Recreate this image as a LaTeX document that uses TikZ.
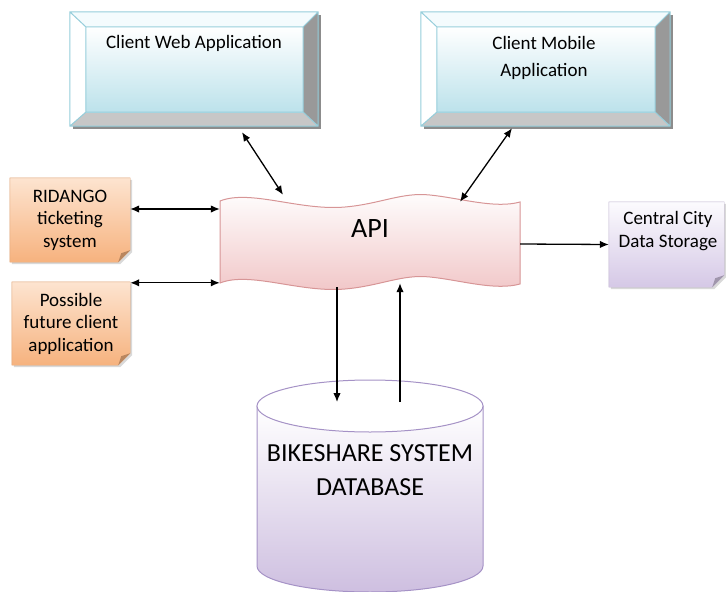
\documentclass[tikz,border=0pt]{standalone}
\usepackage{fontspec}
\setmainfont{Carlito}
\usetikzlibrary{positioning,arrows.meta,backgrounds}
\definecolor{skytop}{HTML}{F4FBFD}
\definecolor{skyface}{HTML}{BCE2EB}
\definecolor{skyline}{HTML}{96CEDB}
\definecolor{peachtop}{HTML}{FDE4D0}
\definecolor{peachbot}{HTML}{F6B27E}
\definecolor{lilactop}{HTML}{FCFBFE}
\definecolor{lilacbot}{HTML}{D5C8E6}
\definecolor{apibot}{HTML}{F1C6C7}
\definecolor{apiline}{HTML}{D79596}
\definecolor{dbbot}{HTML}{CEBFE0}
\definecolor{dbline}{HTML}{A592C6}

\begin{document}
\begin{tikzpicture}[x=1pt,y=-1pt,
    >={Latex[length=9pt,width=7.5pt]},
    every node/.style={text=black, align=center, inner sep=0pt},
    small/.style={font=\fontsize{19}{22.5}\selectfont},
    bevel/.style={minimum width=248pt, minimum height=114pt},
    note/.style={small},
    link/.style={line width=1.3pt}]
  \useasboundingbox (0,0) rectangle (726,592);

  % frames
  \node[bevel] (web) at (194,69) {};
  \node[bevel, minimum width=249pt] (mob) at (545.5,69) {};
  \node[minimum width=300pt, minimum height=86pt] (api) at (370,244) {};
  \node[note, minimum width=120pt, minimum height=84pt] (rid) at (70,220) {RIDANGO\\ticketing\\system};
  \node[note, minimum width=118pt, minimum height=83pt] (fut) at (71,323.5) {Possible\\future client\\application};
  \node[minimum width=115pt, minimum height=85pt] (ctr) at (666.5,244.5) {};

  % bevelled boxes
  \foreach \b in {web,mob}{
    \coordinate (\b-p) at ([shift={(16pt,-15pt)}]\b.north west);
    \coordinate (\b-q) at ([shift={(-15pt,14pt)}]\b.south east);
    \fill[black!45] ([shift={(3pt,-3pt)}]\b.north west) rectangle ([shift={(3pt,-3pt)}]\b.south east);
    \fill[skytop] (\b.north west) -- (\b.north east) -- (\b-q |- \b-p) -- (\b-p) -- cycle;
    \fill[white] (\b.north west) -- (\b-p) -- (\b-p |- \b-q) -- (\b.south west) -- cycle;
    \fill[black!40] (\b.north east) -- (\b.south east) -- (\b-q) -- (\b-q |- \b-p) -- cycle;
    \fill[black!22] (\b.south west) -- (\b.south east) -- (\b-q) -- (\b-p |- \b-q) -- cycle;
    \shade[top color=white, bottom color=skyface] (\b-p) rectangle (\b-q);
    \draw[skyline, line width=1pt] (\b.north west) rectangle (\b.south east)
      (\b-p) rectangle (\b-q)
      (\b.north west) -- (\b-p) (\b.north east) -- (\b-q |- \b-p)
      (\b.south west) -- (\b-p |- \b-q) (\b.south east) -- (\b-q);
  }

  % notes with folded corner
  \begin{scope}[on background layer]
    \foreach \n/\t/\c in {rid/peachtop/peachbot, fut/peachtop/peachbot, ctr/lilactop/lilacbot}{
      \fill[black!15] ([shift={(2pt,-2pt)}]\n.north west) -- ([shift={(2pt,-2pt)}]\n.north east)
        -- ([shift={(2pt,10pt)}]\n.south east) -- ([shift={(-10pt,-2pt)}]\n.south east)
        -- ([shift={(2pt,-2pt)}]\n.south west) -- cycle;
      \shade[top color=\t, bottom color=\c, draw=\c!90!black, line width=.4pt]
        (\n.north west) -- (\n.north east) -- ([yshift=12pt]\n.south east)
        -- ([xshift=-12pt]\n.south east) -- (\n.south west) -- cycle;
      \fill[\c!75!black] ([yshift=12pt]\n.south east) -- ([xshift=-12pt]\n.south east)
        -- ([shift={(-9pt,9pt)}]\n.south east) -- cycle;
    }
  \end{scope}

  % api wave
  \shade[top color=white, bottom color=apibot, draw=apiline, line width=1pt]
    (220,201) .. controls (250,189) and (300,211) .. (345,207)
    .. controls (380,204) and (402,192) .. (430,195)
    .. controls (460,198) and (495,209) .. (520,202)
    -- (520,284)
    .. controls (495,291) and (460,280) .. (430,277)
    .. controls (402,274) and (380,286) .. (345,289)
    .. controls (300,293) and (250,271) .. (220,283) -- cycle;

  % database
  \shade[top color=white, bottom color=dbbot, draw=dbline, line width=1pt]
    (257,406) -- (257,566) arc[start angle=180, end angle=360, x radius=113pt, y radius=26pt]
    -- (483,406) -- cycle;
  \filldraw[fill=white, draw=dbline, line width=1pt] (370,406) ellipse[x radius=113pt, y radius=26pt];
  \coordinate (dbtop) at (370,402);

  % texts
  \node[small] (webtxt) at (194,43) {Client Web Application};
  \node[font=\fontsize{19}{27.5}\selectfont] (mobtxt) at (544,58) {Client Mobile\\Application};
  \node[font=\fontsize{28}{30}\selectfont] (apitxt) at (370,229) {API};
  \node[small] (ctrtxt) at (668,231) {Central City\\Data Storage};
  \node[font=\fontsize{26}{34}\selectfont] (db) at (370,470) {BIKESHARE SYSTEM\\DATABASE};

  % connectors
  \coordinate (r1) at ([yshift=11pt]rid.east);
  \coordinate (f1) at ([yshift=-1pt]fut.north east);
  \draw[link, <->] (r1) -- (r1 -| api.west);
  \draw[link, <->] (f1) -- (f1 -| api.west);
  \draw[link, <->] ([shift={(48pt,-6pt)}]web.south) -- ([shift={(-87pt,6pt)}]api.north);
  \draw[link, <->] ([shift={(-33.5pt,-2pt)}]mob.south) -- ([shift={(90pt,-1pt)}]api.north);
  \draw[link, ->] (api.east) -- (ctr.west);
  \draw[link, ->] ([xshift=-33pt]api.south) -- ([xshift=-33pt]api.south |- dbtop);
  \draw[link, ->] ([xshift=30pt]dbtop) -- ([shift={(30pt,4pt)}]api.south);
\end{tikzpicture}
\end{document}
